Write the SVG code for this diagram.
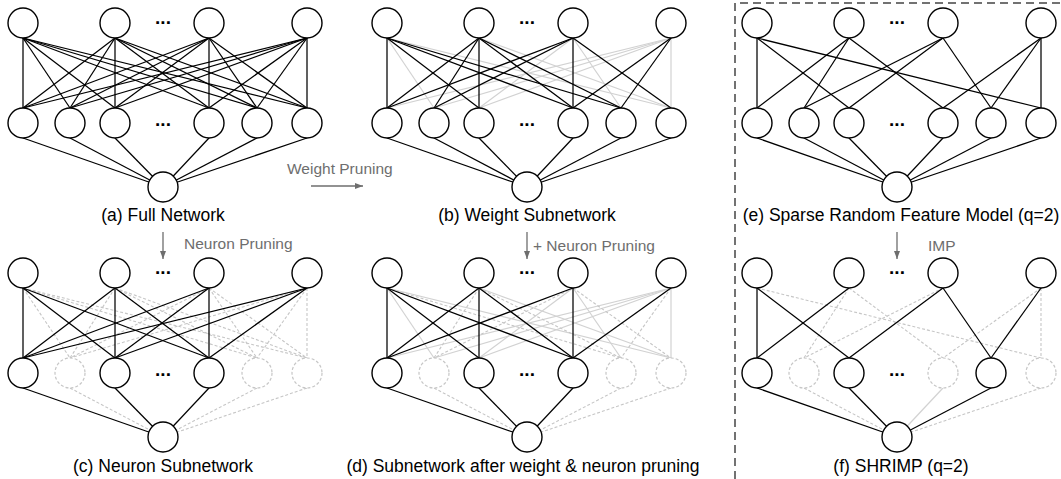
<svg xmlns="http://www.w3.org/2000/svg" width="1061" height="479" viewBox="0 0 1061 479">
<defs>
<style>
.n{fill:#fff;stroke:#000;stroke-width:1.4}
.nd{fill:#fff;stroke:#c6c6c6;stroke-width:1.2;stroke-dasharray:3 2}
.e{stroke:#000;stroke-width:1.25}
.g{stroke:#d2d2d2;stroke-width:1.2}
.d{stroke:#c6c6c6;stroke-width:1.1;stroke-dasharray:3 2}
.lbl{font-family:"Liberation Sans",Arial,sans-serif;font-size:17.5px;fill:#000;text-anchor:middle}
.ann{font-family:"Liberation Sans",Arial,sans-serif;font-size:15.5px;fill:#6e6e6e}
.dots{font-family:"Liberation Sans",Arial,sans-serif;font-size:19px;font-weight:bold;fill:#000;text-anchor:middle}
.arr{stroke:#6e6e6e;stroke-width:1.3;fill:none}
</style>
<marker id="ah" viewBox="0 0 8 6" refX="8" refY="3" markerWidth="8" markerHeight="6" markerUnits="userSpaceOnUse" orient="auto"><path d="M0,0L8,3L0,6z" fill="#6e6e6e"/></marker>
</defs>
<rect width="1061" height="479" fill="#fff"/>

<!-- Panel a -->
<g id="panel-a">
<g id="connectors-a">
<line class="e" x1="23" y1="38" x2="23" y2="108"/><line class="e" x1="23" y1="38" x2="70" y2="108"/><line class="e" x1="23" y1="38" x2="115" y2="108"/><line class="e" x1="23" y1="38" x2="209" y2="108"/><line class="e" x1="23" y1="38" x2="257" y2="108"/><line class="e" x1="23" y1="38" x2="307" y2="108"/>
<line class="e" x1="115" y1="38" x2="23" y2="108"/><line class="e" x1="115" y1="38" x2="70" y2="108"/><line class="e" x1="115" y1="38" x2="115" y2="108"/><line class="e" x1="115" y1="38" x2="209" y2="108"/><line class="e" x1="115" y1="38" x2="257" y2="108"/><line class="e" x1="115" y1="38" x2="307" y2="108"/>
<line class="e" x1="209" y1="38" x2="23" y2="108"/><line class="e" x1="209" y1="38" x2="70" y2="108"/><line class="e" x1="209" y1="38" x2="115" y2="108"/><line class="e" x1="209" y1="38" x2="209" y2="108"/><line class="e" x1="209" y1="38" x2="257" y2="108"/><line class="e" x1="209" y1="38" x2="307" y2="108"/>
<line class="e" x1="307" y1="38" x2="23" y2="108"/><line class="e" x1="307" y1="38" x2="70" y2="108"/><line class="e" x1="307" y1="38" x2="115" y2="108"/><line class="e" x1="307" y1="38" x2="209" y2="108"/><line class="e" x1="307" y1="38" x2="257" y2="108"/><line class="e" x1="307" y1="38" x2="307" y2="108"/>
<line class="e" x1="23" y1="138" x2="163" y2="187"/><line class="e" x1="70" y1="138" x2="163" y2="187"/><line class="e" x1="115" y1="138" x2="163" y2="187"/><line class="e" x1="209" y1="138" x2="163" y2="187"/><line class="e" x1="257" y1="138" x2="163" y2="187"/><line class="e" x1="307" y1="138" x2="163" y2="187"/>
</g>
<g id="a-t1"><circle class="n" cx="23" cy="23" r="15"/></g>
<g id="a-t2"><circle class="n" cx="115" cy="23" r="15"/></g>
<g id="a-t3"><circle class="n" cx="209" cy="23" r="15"/></g>
<g id="a-t4"><circle class="n" cx="307" cy="23" r="15"/></g>
<g id="a-m1"><circle class="n" cx="23" cy="123" r="15"/></g>
<g id="a-m2"><circle class="n" cx="70" cy="123" r="15"/></g>
<g id="a-m3"><circle class="n" cx="115" cy="123" r="15"/></g>
<g id="a-m4"><circle class="n" cx="209" cy="123" r="15"/></g>
<g id="a-m5"><circle class="n" cx="257" cy="123" r="15"/></g>
<g id="a-m6"><circle class="n" cx="307" cy="123" r="15"/></g>
<g id="a-out"><circle class="n" cx="163" cy="187" r="15"/></g>
<text class="dots" x="163" y="24">...</text>
<text class="dots" x="163" y="126">...</text>
<text class="lbl" x="163" y="221">(a) Full Network</text>
</g>

<!-- Panel b -->
<g id="panel-b" transform="translate(364,0)">
<g id="connectors-b">
<line class="g" x1="23" y1="38" x2="70" y2="108"/><line class="g" x1="23" y1="38" x2="307" y2="108"/><line class="g" x1="115" y1="38" x2="307" y2="108"/><line class="g" x1="209" y1="38" x2="115" y2="108"/><line class="g" x1="209" y1="38" x2="257" y2="108"/><line class="g" x1="307" y1="38" x2="23" y2="108"/><line class="g" x1="307" y1="38" x2="70" y2="108"/><line class="g" x1="307" y1="38" x2="115" y2="108"/><line class="g" x1="307" y1="38" x2="307" y2="108"/>
<line class="e" x1="23" y1="38" x2="23" y2="108"/><line class="e" x1="23" y1="38" x2="115" y2="108"/><line class="e" x1="23" y1="38" x2="209" y2="108"/><line class="e" x1="23" y1="38" x2="257" y2="108"/>
<line class="e" x1="115" y1="38" x2="23" y2="108"/><line class="e" x1="115" y1="38" x2="70" y2="108"/><line class="e" x1="115" y1="38" x2="115" y2="108"/><line class="e" x1="115" y1="38" x2="209" y2="108"/><line class="e" x1="115" y1="38" x2="257" y2="108"/>
<line class="e" x1="209" y1="38" x2="23" y2="108"/><line class="e" x1="209" y1="38" x2="70" y2="108"/><line class="e" x1="209" y1="38" x2="209" y2="108"/><line class="e" x1="209" y1="38" x2="307" y2="108"/>
<line class="e" x1="307" y1="38" x2="209" y2="108"/><line class="e" x1="307" y1="38" x2="257" y2="108"/>
<line class="e" x1="23" y1="138" x2="163" y2="187"/><line class="e" x1="70" y1="138" x2="163" y2="187"/><line class="e" x1="115" y1="138" x2="163" y2="187"/><line class="e" x1="209" y1="138" x2="163" y2="187"/><line class="e" x1="257" y1="138" x2="163" y2="187"/><line class="e" x1="307" y1="138" x2="163" y2="187"/>
</g>
<g id="b-t1"><circle class="n" cx="23" cy="23" r="15"/></g>
<g id="b-t2"><circle class="n" cx="115" cy="23" r="15"/></g>
<g id="b-t3"><circle class="n" cx="209" cy="23" r="15"/></g>
<g id="b-t4"><circle class="n" cx="307" cy="23" r="15"/></g>
<g id="b-m1"><circle class="n" cx="23" cy="123" r="15"/></g>
<g id="b-m2"><circle class="n" cx="70" cy="123" r="15"/></g>
<g id="b-m3"><circle class="n" cx="115" cy="123" r="15"/></g>
<g id="b-m4"><circle class="n" cx="209" cy="123" r="15"/></g>
<g id="b-m5"><circle class="n" cx="257" cy="123" r="15"/></g>
<g id="b-m6"><circle class="n" cx="307" cy="123" r="15"/></g>
<g id="b-out"><circle class="n" cx="163" cy="187" r="15"/></g>
<text class="dots" x="163" y="24">...</text>
<text class="dots" x="163" y="126">...</text>
<text class="lbl" x="163" y="221">(b) Weight Subnetwork</text>
</g>

<!-- Panel e -->
<g id="panel-e" transform="translate(734,0)">
<g id="connectors-e">
<line class="e" x1="23" y1="38" x2="23" y2="108"/><line class="e" x1="23" y1="38" x2="115" y2="108"/><line class="e" x1="23" y1="38" x2="307" y2="108"/>
<line class="e" x1="115" y1="38" x2="23" y2="108"/><line class="e" x1="115" y1="38" x2="70" y2="108"/><line class="e" x1="115" y1="38" x2="209" y2="108"/>
<line class="e" x1="209" y1="38" x2="70" y2="108"/><line class="e" x1="209" y1="38" x2="115" y2="108"/><line class="e" x1="209" y1="38" x2="257" y2="108"/>
<line class="e" x1="307" y1="38" x2="209" y2="108"/><line class="e" x1="307" y1="38" x2="257" y2="108"/><line class="e" x1="307" y1="38" x2="307" y2="108"/>
<line class="e" x1="23" y1="138" x2="163" y2="187"/><line class="e" x1="70" y1="138" x2="163" y2="187"/><line class="e" x1="115" y1="138" x2="163" y2="187"/><line class="e" x1="209" y1="138" x2="163" y2="187"/><line class="e" x1="257" y1="138" x2="163" y2="187"/><line class="e" x1="307" y1="138" x2="163" y2="187"/>
</g>
<g id="e-t1"><circle class="n" cx="23" cy="23" r="15"/></g>
<g id="e-t2"><circle class="n" cx="115" cy="23" r="15"/></g>
<g id="e-t3"><circle class="n" cx="209" cy="23" r="15"/></g>
<g id="e-t4"><circle class="n" cx="307" cy="23" r="15"/></g>
<g id="e-m1"><circle class="n" cx="23" cy="123" r="15"/></g>
<g id="e-m2"><circle class="n" cx="70" cy="123" r="15"/></g>
<g id="e-m3"><circle class="n" cx="115" cy="123" r="15"/></g>
<g id="e-m4"><circle class="n" cx="209" cy="123" r="15"/></g>
<g id="e-m5"><circle class="n" cx="257" cy="123" r="15"/></g>
<g id="e-m6"><circle class="n" cx="307" cy="123" r="15"/></g>
<g id="e-out"><circle class="n" cx="163" cy="187" r="15"/></g>
<text class="dots" x="163" y="24">...</text>
<text class="dots" x="163" y="126">...</text>
<text class="lbl" x="167" y="221">(e) Sparse Random Feature Model (q=2)</text>
</g>

<!-- Panel c -->
<g id="panel-c" transform="translate(0,250)">
<g id="connectors-c">
<line class="d" x1="23" y1="38" x2="70" y2="108"/><line class="d" x1="23" y1="38" x2="257" y2="108"/><line class="d" x1="23" y1="38" x2="307" y2="108"/>
<line class="d" x1="115" y1="38" x2="70" y2="108"/><line class="d" x1="115" y1="38" x2="257" y2="108"/><line class="d" x1="115" y1="38" x2="307" y2="108"/>
<line class="d" x1="209" y1="38" x2="70" y2="108"/><line class="d" x1="209" y1="38" x2="257" y2="108"/><line class="d" x1="209" y1="38" x2="307" y2="108"/>
<line class="d" x1="307" y1="38" x2="70" y2="108"/><line class="d" x1="307" y1="38" x2="257" y2="108"/><line class="d" x1="307" y1="38" x2="307" y2="108"/>
<line class="d" x1="70" y1="138" x2="163" y2="187"/><line class="d" x1="257" y1="138" x2="163" y2="187"/><line class="d" x1="307" y1="138" x2="163" y2="187"/>
<line class="e" x1="23" y1="38" x2="23" y2="108"/><line class="e" x1="23" y1="38" x2="115" y2="108"/><line class="e" x1="23" y1="38" x2="209" y2="108"/>
<line class="e" x1="115" y1="38" x2="23" y2="108"/><line class="e" x1="115" y1="38" x2="115" y2="108"/><line class="e" x1="115" y1="38" x2="209" y2="108"/>
<line class="e" x1="209" y1="38" x2="23" y2="108"/><line class="e" x1="209" y1="38" x2="115" y2="108"/><line class="e" x1="209" y1="38" x2="209" y2="108"/>
<line class="e" x1="307" y1="38" x2="23" y2="108"/><line class="e" x1="307" y1="38" x2="115" y2="108"/><line class="e" x1="307" y1="38" x2="209" y2="108"/>
<line class="e" x1="23" y1="138" x2="163" y2="187"/><line class="e" x1="115" y1="138" x2="163" y2="187"/><line class="e" x1="209" y1="138" x2="163" y2="187"/>
</g>
<g id="c-t1"><circle class="n" cx="23" cy="23" r="15"/></g>
<g id="c-t2"><circle class="n" cx="115" cy="23" r="15"/></g>
<g id="c-t3"><circle class="n" cx="209" cy="23" r="15"/></g>
<g id="c-t4"><circle class="n" cx="307" cy="23" r="15"/></g>
<g id="c-m1"><circle class="n" cx="23" cy="123" r="15"/></g>
<g id="c-m2"><circle class="nd" cx="70" cy="123" r="15"/></g>
<g id="c-m3"><circle class="n" cx="115" cy="123" r="15"/></g>
<g id="c-m4"><circle class="n" cx="209" cy="123" r="15"/></g>
<g id="c-m5"><circle class="nd" cx="257" cy="123" r="15"/></g>
<g id="c-m6"><circle class="nd" cx="307" cy="123" r="15"/></g>
<g id="c-out"><circle class="n" cx="163" cy="187" r="15"/></g>
<text class="dots" x="163" y="24">...</text>
<text class="dots" x="163" y="126">...</text>
<text class="lbl" x="163" y="222">(c) Neuron Subnetwork</text>
</g>

<!-- Panel d -->
<g id="panel-d" transform="translate(364,250)">
<g id="connectors-d">
<line class="g" x1="23" y1="38" x2="70" y2="108"/><line class="g" x1="23" y1="38" x2="307" y2="108"/><line class="g" x1="115" y1="38" x2="307" y2="108"/><line class="g" x1="209" y1="38" x2="115" y2="108"/><line class="g" x1="209" y1="38" x2="257" y2="108"/><line class="g" x1="307" y1="38" x2="23" y2="108"/><line class="g" x1="307" y1="38" x2="70" y2="108"/><line class="g" x1="307" y1="38" x2="115" y2="108"/><line class="g" x1="307" y1="38" x2="307" y2="108"/>
<line class="d" x1="23" y1="38" x2="257" y2="108"/><line class="d" x1="115" y1="38" x2="70" y2="108"/><line class="d" x1="115" y1="38" x2="257" y2="108"/><line class="d" x1="209" y1="38" x2="70" y2="108"/><line class="d" x1="209" y1="38" x2="307" y2="108"/><line class="d" x1="307" y1="38" x2="257" y2="108"/>
<line class="d" x1="70" y1="138" x2="163" y2="187"/><line class="d" x1="257" y1="138" x2="163" y2="187"/><line class="d" x1="307" y1="138" x2="163" y2="187"/>
<line class="e" x1="23" y1="38" x2="23" y2="108"/><line class="e" x1="23" y1="38" x2="115" y2="108"/><line class="e" x1="23" y1="38" x2="209" y2="108"/>
<line class="e" x1="115" y1="38" x2="23" y2="108"/><line class="e" x1="115" y1="38" x2="115" y2="108"/><line class="e" x1="115" y1="38" x2="209" y2="108"/>
<line class="e" x1="209" y1="38" x2="23" y2="108"/><line class="e" x1="209" y1="38" x2="209" y2="108"/>
<line class="e" x1="307" y1="38" x2="209" y2="108"/>
<line class="e" x1="23" y1="138" x2="163" y2="187"/><line class="e" x1="115" y1="138" x2="163" y2="187"/><line class="e" x1="209" y1="138" x2="163" y2="187"/>
</g>
<g id="d-t1"><circle class="n" cx="23" cy="23" r="15"/></g>
<g id="d-t2"><circle class="n" cx="115" cy="23" r="15"/></g>
<g id="d-t3"><circle class="n" cx="209" cy="23" r="15"/></g>
<g id="d-t4"><circle class="n" cx="307" cy="23" r="15"/></g>
<g id="d-m1"><circle class="n" cx="23" cy="123" r="15"/></g>
<g id="d-m2"><circle class="nd" cx="70" cy="123" r="15"/></g>
<g id="d-m3"><circle class="n" cx="115" cy="123" r="15"/></g>
<g id="d-m4"><circle class="n" cx="209" cy="123" r="15"/></g>
<g id="d-m5"><circle class="nd" cx="257" cy="123" r="15"/></g>
<g id="d-m6"><circle class="nd" cx="307" cy="123" r="15"/></g>
<g id="d-out"><circle class="n" cx="163" cy="187" r="15"/></g>
<text class="dots" x="163" y="24">...</text>
<text class="dots" x="163" y="126">...</text>
<text class="lbl" x="159" y="222">(d) Subnetwork after weight &amp; neuron pruning</text>
</g>

<!-- Panel f -->
<g id="panel-f" transform="translate(734,250)">
<g id="connectors-f">
<line class="d" x1="23" y1="38" x2="307" y2="108"/><line class="d" x1="115" y1="38" x2="70" y2="108"/><line class="d" x1="115" y1="38" x2="209" y2="108"/><line class="d" x1="209" y1="38" x2="70" y2="108"/><line class="d" x1="307" y1="38" x2="209" y2="108"/><line class="d" x1="307" y1="38" x2="307" y2="108"/>
<line class="d" x1="70" y1="138" x2="163" y2="187"/><line class="d" x1="307" y1="138" x2="163" y2="187"/>
<line class="g" x1="209" y1="138" x2="163" y2="187"/>
<line class="e" x1="23" y1="38" x2="23" y2="108"/><line class="e" x1="23" y1="38" x2="115" y2="108"/><line class="e" x1="115" y1="38" x2="23" y2="108"/><line class="e" x1="209" y1="38" x2="115" y2="108"/><line class="e" x1="209" y1="38" x2="257" y2="108"/><line class="e" x1="307" y1="38" x2="257" y2="108"/>
<line class="e" x1="23" y1="138" x2="163" y2="187"/><line class="e" x1="115" y1="138" x2="163" y2="187"/><line class="e" x1="257" y1="138" x2="163" y2="187"/>
</g>
<g id="f-t1"><circle class="n" cx="23" cy="23" r="15"/></g>
<g id="f-t2"><circle class="n" cx="115" cy="23" r="15"/></g>
<g id="f-t3"><circle class="n" cx="209" cy="23" r="15"/></g>
<g id="f-t4"><circle class="n" cx="307" cy="23" r="15"/></g>
<g id="f-m1"><circle class="n" cx="23" cy="123" r="15"/></g>
<g id="f-m2"><circle class="nd" cx="70" cy="123" r="15"/></g>
<g id="f-m3"><circle class="n" cx="115" cy="123" r="15"/></g>
<g id="f-m4"><circle class="nd" cx="209" cy="123" r="15"/></g>
<g id="f-m5"><circle class="n" cx="257" cy="123" r="15"/></g>
<g id="f-m6"><circle class="nd" cx="307" cy="123" r="15"/></g>
<g id="f-out"><circle class="n" cx="163" cy="187" r="15"/></g>
<text class="dots" x="163" y="24">...</text>
<text class="dots" x="163" y="126">...</text>
<text class="lbl" x="167" y="222">(f) SHRIMP (q=2)</text>
</g>

<!-- Transition arrows -->
<g id="arrows">
<line class="arr" x1="311" y1="186" x2="363" y2="186" marker-end="url(#ah)"/>
<line class="arr" x1="163" y1="232" x2="163" y2="259" marker-end="url(#ah)"/>
<line class="arr" x1="527" y1="232" x2="527" y2="259" marker-end="url(#ah)"/>
<line class="arr" x1="897" y1="232" x2="897" y2="259" marker-end="url(#ah)"/>
</g>
<text class="ann" x="287" y="174">Weight Pruning</text>
<text class="ann" x="184" y="249">Neuron Pruning</text>
<text class="ann" x="533" y="251">+ Neuron Pruning</text>
<text class="ann" x="928" y="251">IMP</text>

<!-- Dashed frame -->
<path d="M735 479V3H1061" fill="none" stroke="#444" stroke-width="1.5" stroke-dasharray="8 5"/>
</svg>
